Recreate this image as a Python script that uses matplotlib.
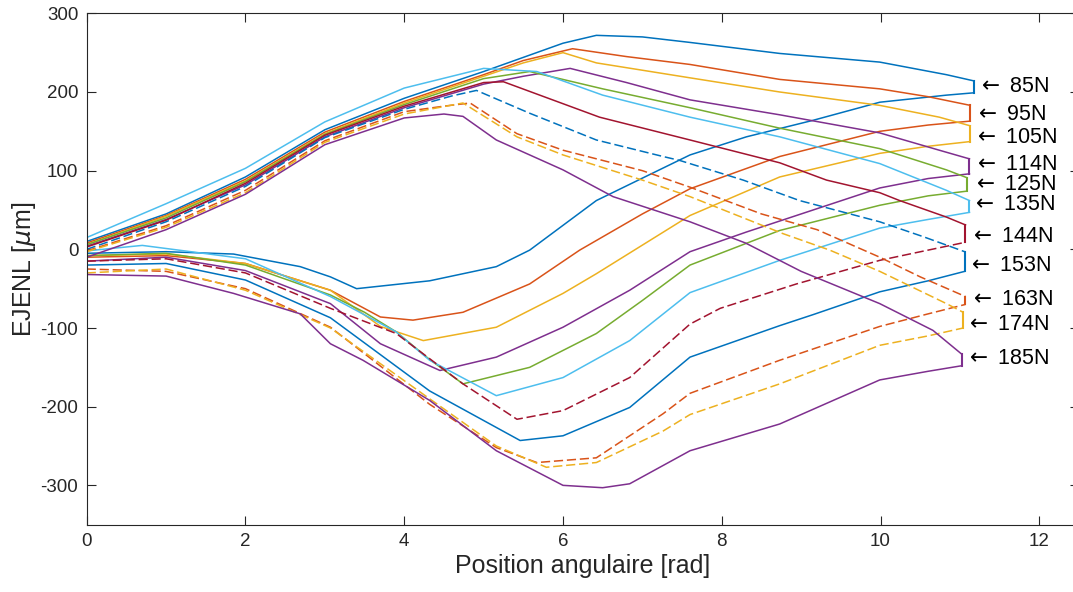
import matplotlib
matplotlib.use("Agg")
import matplotlib.pyplot as plt

plt.rcParams['font.family'] = ['Liberation Sans', 'DejaVu Sans']
plt.rcParams['axes.unicode_minus'] = False

# charges (N) et couleurs (ordre MATLAB)
charges = [85, 95, 105, 114, 125, 135, 144, 153, 163, 174, 185]
couleurs = ['#0072BD', '#D95319', '#EDB120', '#7E2F8E', '#77AC30', '#4DBEEE',
            '#A2142F', '#0072BD', '#D95319', '#EDB120', '#7E2F8E']

# --- 85N
x_up_85 = [0, 1, 2, 3, 4, 5, 5.5, 6.0, 6.42, 7.0, 7.6, 8.73, 9.99, 10.83, 11.18]
y_up_85 = [10, 45, 92, 152, 192, 226, 244, 262, 272, 270, 263, 249, 238, 222, 214]
x_lo_85 = [0, 1, 1.85, 2.69, 3.07, 3.4, 4.32, 5.16, 5.58, 6.42, 7.6, 8.31, 9.15, 9.99, 10.83, 11.18]
y_lo_85 = [-5, -3, -6, -22, -35, -50, -40, -22, -1, 62, 120, 143, 164, 187, 196, 199]
# --- 95N
x_up_95 = [0, 1, 2, 3, 4, 5, 5.5, 6.12, 6.8, 7.6, 8.73, 9.99, 10.6, 11.13]
y_up_95 = [8, 43, 89, 149, 188, 222, 240, 255, 245, 235, 216, 204, 194, 183]
x_lo_95 = [0, 1, 2, 3.07, 3.7, 4.11, 4.74, 5.58, 6.21, 7.0, 7.6, 8.73, 9.99, 10.6, 11.13]
y_lo_95 = [-10, -8, -18, -52, -86, -90, -80, -44, -1, 45, 77, 118, 150, 158, 163]
# --- 105N
x_up_105 = [0, 1, 2, 3, 4, 5, 5.5, 6.0, 6.42, 7.6, 8.73, 9.99, 10.74, 11.13]
y_up_105 = [6, 42, 87, 147, 186, 220, 237, 250, 237, 218, 200, 183, 168, 157]
x_lo_105 = [0, 1, 2, 3.07, 3.7, 4.24, 5.16, 6.0, 6.42, 7.6, 8.73, 9.99, 10.6, 11.13]
y_lo_105 = [-8, -6, -18, -52, -98, -116, -99, -56, -31, 43, 92, 122, 131, 137]
# --- 114N
x_up_114 = [0, 1, 2, 3, 4, 5, 5.5, 6.09, 6.8, 7.6, 8.73, 9.99, 10.74, 11.12]
y_up_114 = [4, 38, 82, 143, 180, 210, 220, 230, 212, 190, 171, 148, 126, 115]
x_lo_114 = [0, 1, 2, 3.07, 3.7, 4.45, 5.16, 6.0, 6.84, 7.6, 8.31, 9.15, 9.99, 10.6, 11.12]
y_lo_114 = [-15, -10, -27, -69, -120, -154, -137, -99, -52, -3, 22, 50, 78, 90, 96]
# --- 125N
x_up_125 = [0, 1, 2, 3, 4, 5, 5.58, 6.5, 7.6, 8.73, 9.99, 10.83, 11.09]
y_up_125 = [6, 40, 86, 146, 184, 217, 226, 204, 180, 154, 128, 101, 91]
x_lo_125 = [0, 1, 2, 3.07, 3.5, 3.9, 4.32, 4.74, 5.58, 6.42, 7.0, 7.6, 8.73, 9.99, 10.6, 11.09]
y_lo_125 = [-8, -5, -20, -58, -80, -105, -140, -171, -150, -107, -65, -20, 24, 56, 68, 74]
# --- 135N
x_up_135 = [0, 1, 2, 3, 4, 5, 5.67, 6.5, 7.6, 8.73, 9.99, 10.83, 11.12]
y_up_135 = [15, 58, 103, 162, 205, 230, 226, 196, 168, 143, 109, 75, 62]
x_lo_135 = [0, 0.7, 2, 3.07, 3.9, 4.32, 5.16, 6.0, 6.84, 7.6, 8.73, 9.99, 10.6, 11.12]
y_lo_135 = [-2, 5, -12, -60, -105, -141, -186, -163, -116, -55, -14, 27, 38, 47]
# --- 144N
x_up_144 = [0, 1, 2, 3, 4, 5, 5.25, 6.46, 7.6, 8.73, 9.32, 9.99, 10.24, 10.83, 11.07]
y_up_144 = [3, 37, 84, 145, 182, 212, 213, 168, 139, 110, 88, 72, 62, 41, 31]
x_lo_144 = [0, 1, 2, 3.07, 3.9, 4.74, 5.42, 6.0, 6.84, 7.6, 7.98, 8.94, 9.99, 10.41, 11.07]
y_lo_144 = [-15, -12, -30, -75, -107, -171, -216, -205, -163, -95, -75, -44, -14, -5, 9]
# --- 153N
x_up_153 = [0, 1, 2, 3, 4, 4.6, 4.91, 5.58, 6.42, 7.26, 7.47, 8.27, 8.98, 9.99, 10.54, 11.06]
y_up_153 = [0, 35, 80, 142, 178, 195, 202, 173, 139, 118, 113, 88, 62, 35, 16, -3]
x_lo_153 = [0, 1, 2, 3.07, 4.32, 5.46, 6.0, 6.84, 7.6, 8.73, 9.15, 9.99, 10.6, 11.06]
y_lo_153 = [-20, -18, -39, -87, -180, -243, -237, -201, -137, -97, -83, -54, -40, -28]
# --- 163N
x_up_163 = [0, 1, 2, 3, 4, 4.5, 4.83, 5.42, 6.0, 7.0, 7.6, 8.5, 9.2, 9.99, 10.5, 11.07]
y_up_163 = [-2, 30, 75, 138, 175, 182, 186, 147, 126, 100, 79, 45, 25, -10, -35, -60]
x_lo_163 = [0, 1, 2, 3.07, 4.32, 5.16, 5.67, 6.42, 7.26, 7.6, 8.73, 9.99, 10.6, 11.07]
y_lo_163 = [-25, -28, -50, -99, -197, -252, -271, -265, -209, -183, -141, -98, -82, -70]
# --- 174N
x_up_174 = [0, 1, 2, 3, 4, 4.74, 5.42, 6.0, 7.0, 7.6, 8.77, 9.36, 9.99, 10.83, 11.04]
y_up_174 = [-3, 28, 72, 136, 172, 186, 143, 120, 88, 67, 20, -1, -28, -69, -80]
x_lo_174 = [0, 1, 2, 3.07, 4.32, 5.16, 5.79, 6.42, 7.26, 7.6, 8.73, 9.99, 10.6, 11.04]
y_lo_174 = [-30, -25, -52, -100, -190, -250, -277, -271, -231, -210, -171, -122, -110, -100]
# --- 185N
x_up_185 = [0, 1, 2, 3, 4, 4.5, 4.74, 5.16, 6.0, 6.63, 7.6, 8.3, 9.0, 9.99, 10.66, 11.02]
y_up_185 = [-10, 25, 70, 133, 167, 172, 169, 139, 101, 67, 35, 8, -28, -69, -103, -133]
x_lo_185 = [0, 1, 1.85, 2.69, 3.07, 3.48, 4.32, 5.16, 6.0, 6.5, 6.84, 7.6, 8.73, 9.99, 10.6, 11.02]
y_lo_185 = [-32, -34, -56, -82, -120, -141, -192, -256, -300, -303, -298, -256, -222, -166, -155, -148]

branches_up = [(x_up_85, y_up_85), (x_up_95, y_up_95), (x_up_105, y_up_105),
               (x_up_114, y_up_114), (x_up_125, y_up_125), (x_up_135, y_up_135),
               (x_up_144, y_up_144), (x_up_153, y_up_153), (x_up_163, y_up_163),
               (x_up_174, y_up_174), (x_up_185, y_up_185)]
branches_lo = [(x_lo_85, y_lo_85), (x_lo_95, y_lo_95), (x_lo_105, y_lo_105),
               (x_lo_114, y_lo_114), (x_lo_125, y_lo_125), (x_lo_135, y_lo_135),
               (x_lo_144, y_lo_144), (x_lo_153, y_lo_153), (x_lo_163, y_lo_163),
               (x_lo_174, y_lo_174), (x_lo_185, y_lo_185)]

# branches tracees en pointilles (donnees lacunaires)
tirets_up = [False, False, False, False, False, False, False, True, True, True, False]
tirets_lo = [False, False, False, False, False, False, True, False, True, True, False]

# etiquettes : position de la fleche
label_x = [11.22, 11.18, 11.17, 11.17, 11.15, 11.14, 11.11, 11.09, 11.11, 11.06, 11.06]
label_y = [207, 171, 142, 108, 82, 57, 16, -21, -64, -95, -139]

fig = plt.figure(figsize=(10.73, 5.92), dpi=100)
ax = fig.add_axes([0.0808, 0.1137, 0.9248, 0.8638])

dash = (0, (6, 2.5))
lw = 1.1
for i, c in enumerate(couleurs):
    xu, yu = branches_up[i]
    xl, yl = branches_lo[i]
    ax.plot(xu, yu, color=c, lw=lw, linestyle=dash if tirets_up[i] else '-')
    ax.plot(xl, yl, color=c, lw=lw, linestyle=dash if tirets_lo[i] else '-')
    # fermeture de la boucle aux extremites
    ax.plot([xu[-1], xl[-1]], [yu[-1], yl[-1]], color=c, lw=lw + 0.4)
    ax.plot([xu[0], xl[0]], [yu[0], yl[0]], color=c, lw=lw)

for i, ch in enumerate(charges):
    ax.text(label_x[i], label_y[i], r"$\leftarrow$ " + f"{ch}N", fontsize=15.5,
            va='center', ha='left', color='black')

ax.set_xlim(0, 12.5)
ax.set_ylim(-350, 300)
ax.set_xticks([0, 2, 4, 6, 8, 10, 12])
ax.set_yticks([-300, -200, -100, 0, 100, 200, 300])
ax.tick_params(direction='in', length=6.5, width=0.8, top=True, right=True,
               labelsize=13.5, colors='#262626', pad=6)
for s in ax.spines.values():
    s.set_color('#262626')
    s.set_linewidth(0.8)

ax.set_xlabel("Position angulaire [rad]", fontsize=18, color='#262626', labelpad=3)
ax.set_ylabel(r"EJENL [$\mu$m]", fontsize=18, color='#262626', labelpad=2)

fig.savefig("out.png", dpi=100)
